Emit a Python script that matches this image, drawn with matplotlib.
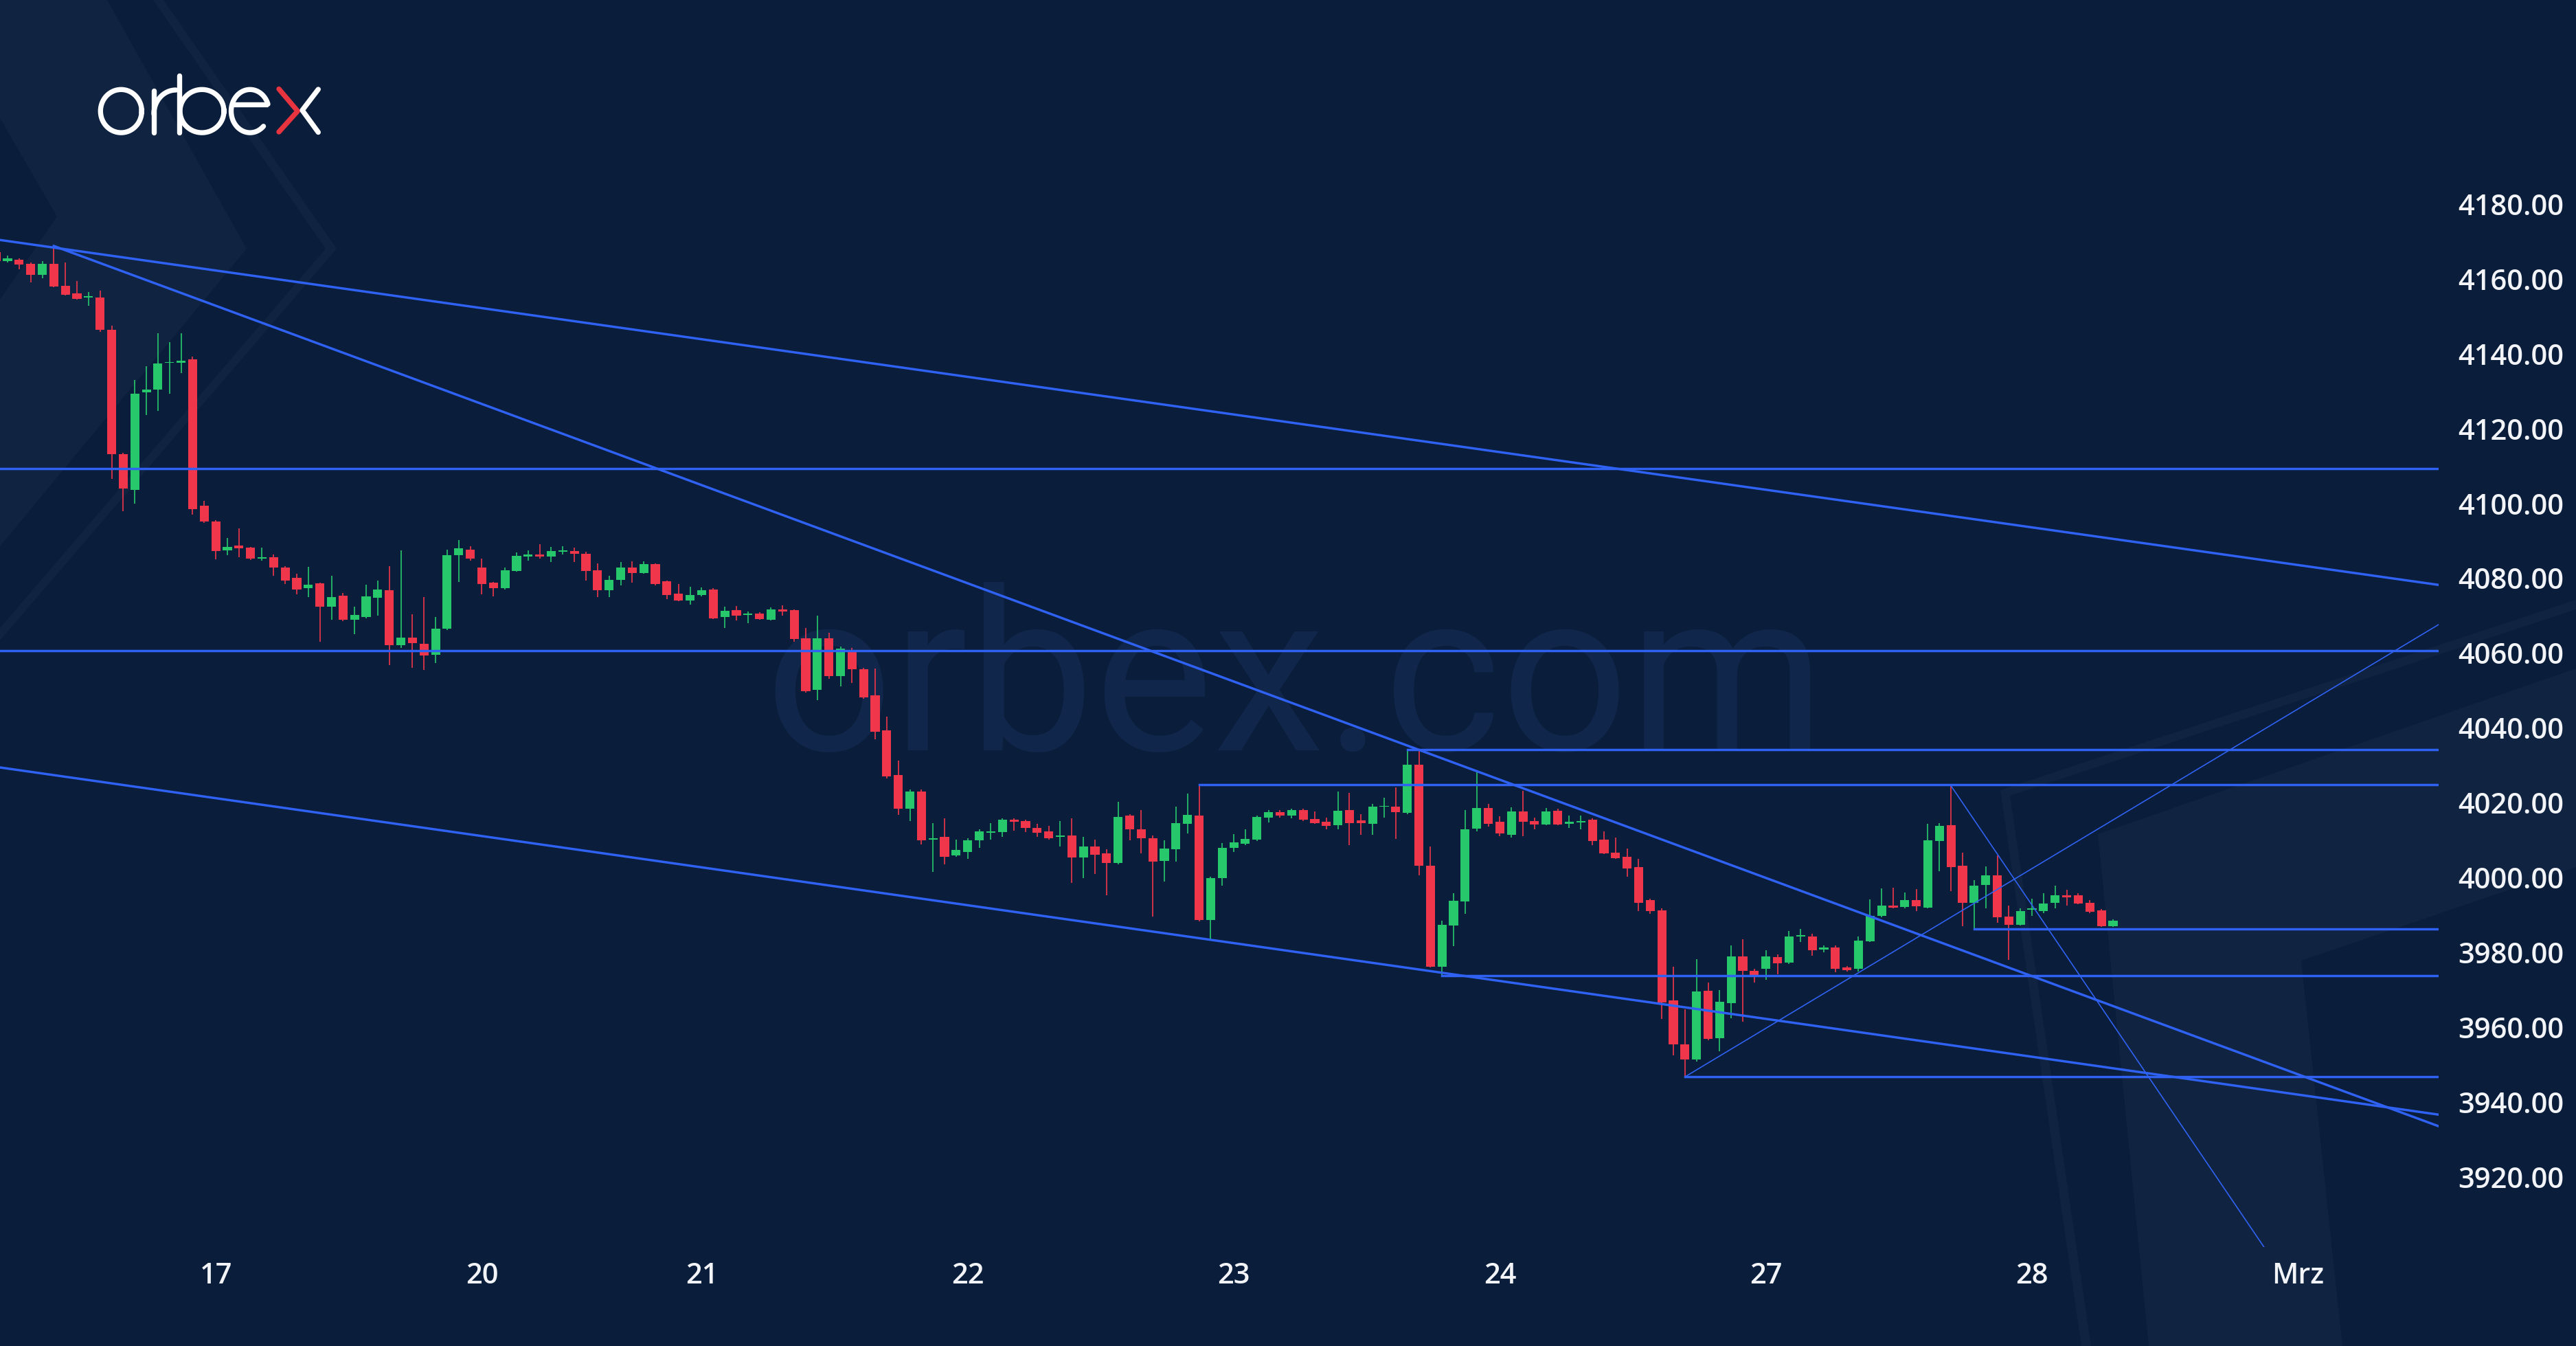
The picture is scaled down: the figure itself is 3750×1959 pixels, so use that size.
import numpy as np
import matplotlib
matplotlib.use("Agg")
import matplotlib.pyplot as plt
from matplotlib.patches import Polygon

# Hourly candles, bar index 0..183
opens = [4167.2, 4164.7, 4165.1, 4164.1, 4161.0, 4164.1, 4158.1, 4156.2, 4155.0, 4155.0,
         4146.4, 4113.2, 4103.6, 4129.6, 4130.4, 4137.5, 4137.5, 4138.5, 4099.3, 4095.2,
         4087.5, 4088.8, 4088.2, 4085.3, 4085.6, 4082.9, 4080.0, 4077.3, 4078.6, 4072.4,
         4075.3, 4068.9, 4069.6, 4074.7, 4076.7, 4062.0, 4064.2, 4062.5, 4059.6, 4066.5,
         4086.1, 4087.6, 4082.9, 4078.8, 4077.4, 4082.0, 4085.8, 4086.4, 4085.7, 4087.1,
         4087.3, 4086.6, 4082.2, 4076.7, 4079.5, 4082.9, 4081.4, 4083.7, 4079.1, 4075.8,
         4074.0, 4075.5, 4076.9, 4069.7, 4071.4, 4070.2, 4070.5, 4068.8, 4071.6, 4071.4,
         4064.0, 4050.2, 4064.0, 4053.9, 4060.7, 4055.6, 4048.6, 4039.3, 4027.4, 4018.4,
         4023.0, 4010.2, 4010.9, 4005.8, 4006.8, 4009.9, 4011.9, 4012.1, 4015.4, 4015.1,
         4013.3, 4012.3, 4010.9, 4011.3, 4005.3, 4008.2, 4006.4, 4003.9, 4016.6, 4012.9,
         4010.5, 4004.5, 4007.6, 4014.3, 4016.5, 3988.7, 3999.8, 4008.0, 4009.1, 4010.1,
         4016.0, 4017.4, 4016.6, 4018.1, 4015.6, 4014.8, 4014.0, 4018.1, 4015.2, 4014.3,
         4018.9, 4018.9, 4017.3, 4030.2, 4003.2, 3976.1, 3987.1, 3993.5, 4013.0, 4018.5,
         4014.8, 4011.4, 4017.7, 4015.1, 4014.2, 4017.9, 4014.4, 4014.7, 4015.4, 4010.1,
         4006.6, 4005.6, 4002.7, 3993.9, 3991.2, 3967.1, 3955.4, 3951.3, 3969.7, 3957.0,
         3966.4, 3978.9, 3975.0, 3975.6, 3978.7, 3977.3, 3984.3, 3984.3, 3980.8, 3981.2,
         3975.9, 3975.5, 3983.0, 3989.8, 3992.5, 3992.2, 3993.9, 3991.9, 4009.7, 4013.9,
         4003.2, 3993.2, 3998.0, 4000.6, 3989.5, 3987.4, 3991.4, 3991.0, 3993.2, 3995.2,
         3995.2, 3993.3, 3991.2, 3986.9]
highs = [4168.0, 4166.2, 4165.5, 4164.4, 4164.7, 4168.8, 4164.4, 4159.5, 4156.5, 4156.9,
         4147.5, 4113.6, 4132.9, 4136.6, 4145.4, 4143.1, 4145.4, 4139.3, 4100.7, 4095.5,
         4090.7, 4093.4, 4088.4, 4088.2, 4086.4, 4083.2, 4081.1, 4083.1, 4078.8, 4080.6,
         4076.0, 4072.4, 4078.2, 4079.3, 4083.3, 4087.4, 4070.4, 4074.9, 4069.6, 4087.6,
         4090.2, 4088.6, 4085.3, 4079.0, 4082.9, 4086.8, 4087.4, 4089.0, 4088.4, 4088.6,
         4088.1, 4087.0, 4083.9, 4080.6, 4084.3, 4084.5, 4084.5, 4084.0, 4079.3, 4078.5,
         4077.7, 4077.5, 4077.3, 4072.4, 4072.5, 4071.1, 4070.9, 4072.2, 4072.8, 4071.7,
         4066.6, 4069.9, 4065.4, 4061.7, 4061.3, 4056.0, 4055.8, 4043.0, 4031.2, 4023.6,
         4023.6, 4014.6, 4015.8, 4010.1, 4010.5, 4012.9, 4014.6, 4015.8, 4015.8, 4015.4,
         4014.4, 4013.7, 4015.1, 4015.8, 4010.9, 4010.1, 4007.6, 4020.3, 4017.0, 4018.1,
         4011.3, 4009.9, 4018.9, 4022.4, 4024.8, 4000.2, 4009.2, 4011.5, 4012.8, 4016.6,
         4018.1, 4018.1, 4018.3, 4018.3, 4017.7, 4016.0, 4023.0, 4022.6, 4016.9, 4019.7,
         4021.4, 4024.0, 4034.1, 4034.1, 4008.3, 3988.4, 3995.8, 4018.1, 4028.3, 4019.6,
         4016.4, 4018.7, 4023.2, 4016.0, 4018.5, 4018.3, 4016.6, 4016.6, 4015.8, 4012.4,
         4010.7, 4007.8, 4005.0, 3994.3, 3991.8, 3976.1, 3964.8, 3978.1, 3972.0, 3969.9,
         3981.9, 3983.5, 3975.6, 3980.5, 3979.5, 3985.7, 3986.3, 3984.9, 3981.9, 3981.9,
         3976.4, 3984.3, 3994.1, 3997.0, 3997.3, 3995.9, 3996.8, 4014.3, 4014.6, 4024.5,
         4006.6, 3999.2, 4003.0, 4005.9, 3992.5, 3991.7, 3994.3, 3995.7, 3997.8, 3996.7,
         3995.7, 3993.9, 3991.5, 3988.8]
lows = [4164.0, 4164.3, 4162.6, 4159.0, 4160.2, 4157.8, 4155.6, 4154.4, 4152.8, 4145.8,
        4106.5, 4097.9, 4099.9, 4123.7, 4124.7, 4129.3, 4134.8, 4097.0, 4094.8, 4085.0,
        4086.1, 4085.6, 4084.8, 4084.7, 4080.6, 4078.4, 4075.7, 4074.9, 4063.0, 4068.8,
        4068.6, 4065.0, 4069.2, 4070.0, 4056.7, 4061.4, 4056.0, 4055.5, 4057.3, 4066.1,
        4079.0, 4084.7, 4075.7, 4075.2, 4077.0, 4081.7, 4084.7, 4085.2, 4084.3, 4086.3,
        4084.3, 4079.3, 4075.0, 4075.0, 4078.0, 4078.8, 4081.2, 4078.1, 4074.4, 4073.8,
        4073.0, 4075.2, 4069.1, 4066.6, 4068.7, 4067.9, 4068.9, 4068.7, 4069.9, 4063.0,
        4049.4, 4047.4, 4053.1, 4051.1, 4051.9, 4047.8, 4037.0, 4026.5, 4016.8, 4015.0,
        4008.8, 4001.4, 4003.5, 4005.5, 4005.0, 4008.0, 4010.1, 4010.9, 4012.5, 4012.1,
        4010.8, 4010.1, 4008.2, 3998.6, 3999.8, 4001.0, 3995.3, 4003.5, 4009.9, 4006.4,
        3989.6, 3999.0, 4004.3, 4011.7, 3988.3, 3983.4, 3997.8, 4006.8, 4008.7, 4009.7,
        4014.7, 4016.0, 4015.8, 4015.0, 4014.4, 4012.8, 4012.8, 4008.7, 4011.4, 4011.4,
        4016.0, 4010.3, 4016.9, 4000.5, 3975.9, 3973.8, 3981.6, 3990.2, 4012.4, 4013.6,
        4011.1, 4010.6, 4011.1, 4012.8, 4014.0, 4014.0, 4013.3, 4012.8, 4008.7, 4006.2,
        4005.0, 4000.2, 3991.0, 3990.2, 3962.2, 3952.5, 3946.7, 3950.7, 3956.4, 3953.5,
        3962.3, 3961.5, 3972.0, 3972.6, 3974.2, 3976.9, 3982.8, 3979.1, 3980.0, 3974.6,
        3974.8, 3974.8, 3982.8, 3989.4, 3991.8, 3991.7, 3991.0, 3991.8, 4001.6, 3996.4,
        3987.0, 3986.2, 3991.8, 3987.9, 3977.9, 3987.2, 3989.7, 3990.5, 3991.7, 3992.5,
        3992.9, 3990.4, 3986.7, 3986.7]
closes = [4164.7, 4165.5, 4163.9, 4161.0, 4164.1, 4158.0, 4155.8, 4154.6, 4155.2, 4146.4,
          4113.2, 4104.0, 4129.4, 4130.4, 4137.4, 4137.6, 4138.2, 4098.5, 4095.2, 4087.2,
          4088.4, 4087.9, 4085.2, 4085.5, 4082.9, 4079.4, 4077.0, 4078.2, 4072.4, 4074.9,
          4068.8, 4070.2, 4075.1, 4076.9, 4062.0, 4064.2, 4062.6, 4059.3, 4066.5, 4086.1,
          4087.9, 4085.2, 4078.4, 4077.4, 4082.1, 4086.0, 4086.4, 4085.8, 4087.3, 4087.5,
          4086.5, 4082.0, 4076.7, 4079.5, 4082.9, 4081.4, 4083.7, 4078.5, 4075.5, 4074.0,
          4075.5, 4076.7, 4069.3, 4071.3, 4069.9, 4070.3, 4069.1, 4071.6, 4071.1, 4063.8,
          4049.8, 4064.0, 4053.9, 4061.1, 4055.6, 4048.2, 4038.9, 4027.1, 4018.3, 4023.0,
          4009.9, 4010.5, 4005.5, 4007.4, 4009.9, 4012.4, 4012.4, 4015.4, 4014.8, 4013.3,
          4011.9, 4010.5, 4011.3, 4005.3, 4008.2, 4006.1, 4003.9, 4016.2, 4012.9, 4010.5,
          4004.3, 4007.8, 4014.6, 4016.8, 3988.7, 3999.8, 4008.0, 4009.3, 4010.3, 4016.2,
          4017.4, 4016.6, 4018.1, 4015.5, 4014.6, 4013.8, 4017.8, 4014.6, 4014.6, 4018.9,
          4019.0, 4017.4, 4030.2, 4003.1, 3976.1, 3987.3, 3993.7, 4012.8, 4018.5, 4014.4,
          4011.7, 4017.7, 4014.8, 4014.2, 4017.7, 4014.2, 4014.8, 4015.0, 4009.7, 4006.5,
          4005.2, 4002.4, 3993.3, 3991.0, 3966.6, 3955.4, 3951.3, 3969.5, 3956.8, 3966.8,
          3978.9, 3975.0, 3973.6, 3978.9, 3977.1, 3984.3, 3984.5, 3980.5, 3981.2, 3975.5,
          3975.3, 3983.2, 3989.8, 3992.5, 3992.0, 3993.9, 3992.3, 4009.9, 4013.8, 4002.7,
          3993.2, 3997.8, 4000.6, 3989.3, 3987.4, 3991.1, 3991.8, 3993.1, 3995.3, 3994.7,
          3993.1, 3990.9, 3986.9, 3988.4]

# day labels and the bar index where each day starts
day_labels = ["17", "20", "21", "22", "23", "24", "27", "28", "Mrz"]
day_bars = [19, 42, 61, 84, 107, 130, 153, 176, 199]
price_ticks = list(range(3920, 4181, 20))

# horizontal levels: (start bar, price)
levels = [(0, 4109.2), (0, 4060.6), (122, 4034.1), (104, 4024.8),
          (171, 3986.3), (125, 3973.8), (146, 3946.8)]
# trend lines: (bar0, price0, bar1, price1)
trend_thick = [(0.35, 4170.4, 211.15, 4078.2),   # upper channel
               (0.35, 4029.4, 211.15, 3936.6),   # lower channel
               (5, 4168.8, 211.15, 3933.5)]      # falling line from the high
trend_thin = [(146, 3946.7, 211.15, 4067.6),
              (169, 4024.5, 196.1, 3901.0)]

BG = "#0a1d3a"
PANEL = "#102441"
GREEN = "#27c86c"
RED = "#f0364a"
BLUE = "#2f62f2"
TXT = "#f2f4f8"

plt.rcParams['font.family'] = ['Open Sans', 'Liberation Sans', 'DejaVu Sans']

W, H = 3750, 1959
fig = plt.figure(figsize=(W / 100, H / 100), dpi=100)
fig.patch.set_facecolor(BG)

# background layer in pixel coordinates
bg = fig.add_axes([0, 0, 1, 1])
bg.set_xlim(0, W)
bg.set_ylim(H, 0)
bg.axis('off')
bg.set_zorder(0)

shapes = [
    [(0, 0), (156, 0), (359, 362), (0, 795), (0, 436), (83, 315), (0, 172)],
    [(223, 0), (238, 0), (490, 362), (0, 932), (0, 914), (474, 362)],
    [(3750, 973), (3054, 1214), (3128, 1959), (3410, 1959), (3350, 1398), (3750, 1262)],
    [(3750, 873), (2912, 1150), (3030, 1959), (3044, 1959), (2926, 1158), (3750, 887)],
]
for pts in shapes:
    bg.add_patch(Polygon(pts, closed=True, facecolor=PANEL, edgecolor='none'))

bg.text(1113, 1092, "orbex.com", family="Roboto", fontsize=235, color="#10264a",
        ha='left', va='baseline')

# logo
lw_logo = 5.3
t = np.linspace(0, 2 * np.pi, 200)
bg.plot(176.3 + 30 * np.cos(t), 161.7 + 31.4 * np.sin(t), color='white', lw=lw_logo)
bg.plot([224, 224], [132, 193], color='white', lw=lw_logo, solid_capstyle='round')
tr = np.linspace(np.pi, 1.5 * np.pi, 60)
bg.plot(256 + 32 * np.cos(tr), 166 + 35 * np.sin(tr), color='white', lw=lw_logo,
        solid_capstyle='round')
bg.plot([261, 261], [110, 193], color='white', lw=lw_logo, solid_capstyle='round')
bg.plot(294 + 32 * np.cos(t), 161.7 + 31.4 * np.sin(t), color='white', lw=lw_logo)
te = np.linspace(-0.33, 0.78 - 2 * np.pi, 200)
bg.plot(364 + 27.5 * np.cos(te), 161.7 + 31.4 * np.sin(te), color='white', lw=lw_logo,
        solid_capstyle='round')
bg.plot([338, 390], [151.7, 151.7], color='white', lw=lw_logo, solid_capstyle='butt')
bg.plot([406, 433.3, 406], [129.5, 161.7, 192], color='#e8343f', lw=lw_logo,
        solid_capstyle='round', solid_joinstyle='round')
bg.plot([463.3, 440, 463.3], [130, 160.5, 192.5], color='white', lw=lw_logo,
        solid_capstyle='round', solid_joinstyle='round')

# chart
ax = fig.add_axes([0, 144 / H, 3550 / W, 1815 / H])
ax.set_zorder(1)
ax.patch.set_alpha(0)
for s in ax.spines.values():
    s.set_visible(False)

o = np.array(opens)
c = np.array(closes)
hi = np.array(highs)
lo = np.array(lows)
idx = np.arange(len(o))
cols = np.where(c >= o, GREEN, RED)

ax.vlines(idx, lo, hi, colors=cols, lw=1.2, zorder=2)
body_lo = np.minimum(o, c)
body_h = np.maximum(np.abs(c - o), 0.3)
ax.bar(idx, body_h, bottom=body_lo, width=0.78, color=cols, linewidth=0, zorder=3)

xmin, xmax = 0.347, 211.15
for b0, p in levels:
    ax.plot([max(b0, xmin), xmax], [p, p], color=BLUE, lw=2.5, zorder=4)
for x0, y0, x1, y1 in trend_thick:
    ax.plot([x0, x1], [y0, y1], color=BLUE, lw=2.5, zorder=4)
for x0, y0, x1, y1 in trend_thin:
    ax.plot([x0, x1], [y0, y1], color=BLUE, lw=1.2, zorder=4)

ax.set_xlim(xmin, xmax)
ax.set_ylim(3901.2, 4234.55)

ax.yaxis.tick_right()
ax.set_yticks(price_ticks)
ax.set_yticklabels([f"{v:.2f}" for v in price_ticks])
ax.set_xticks(day_bars)
ax.set_xticklabels(day_labels)
for lab in ax.get_xticklabels() + ax.get_yticklabels():
    lab.set_fontweight('semibold')
ax.tick_params(axis='y', length=0, pad=20, labelsize=30, labelcolor=TXT)
ax.tick_params(axis='x', length=0, pad=15, labelsize=30, labelcolor=TXT)

fig.savefig("out.png", dpi=100, facecolor=BG)
